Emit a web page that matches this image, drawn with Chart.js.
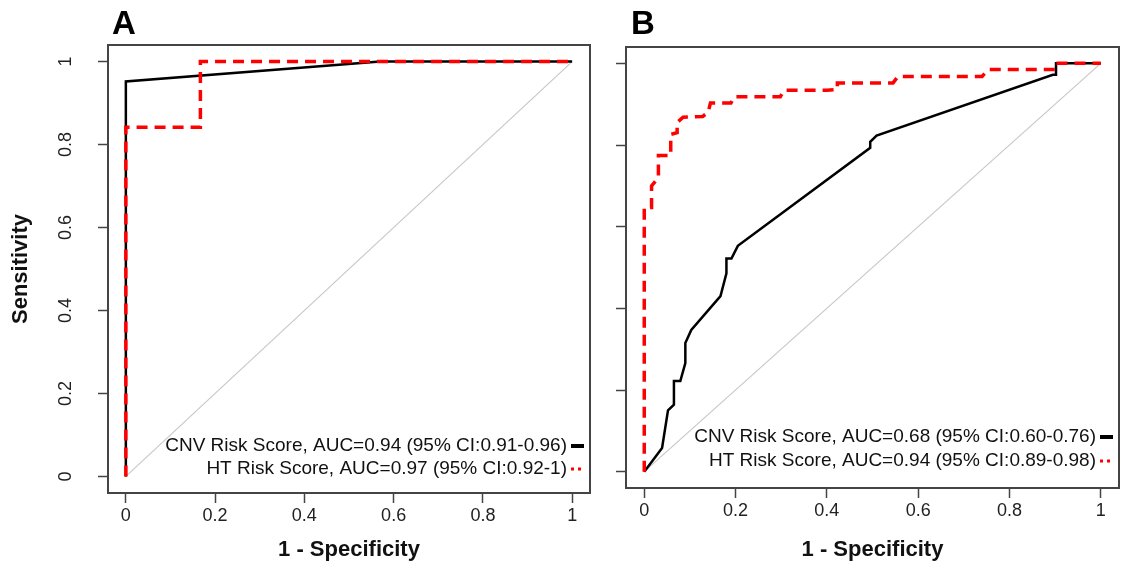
<!DOCTYPE html>
<html>
<head>
<meta charset="utf-8">
<script src="https://cdn.jsdelivr.net/npm/chart.js@4.4.1/dist/chart.umd.min.js"></script>
<style>
  html, body { margin: 0; padding: 0; background: #fff; }
  #wrap { position: relative; width: 1122px; height: 565px; }
  #wrap canvas { position: absolute; top: 0; }
  #rocA { left: 0; }
  #rocB { left: 600px; }
</style>
</head>
<body>
<div id="wrap">
  <canvas id="rocA" width="600" height="565"></canvas>
  <canvas id="rocB" width="522" height="565"></canvas>
</div>
<script>
// shared axis ticks and the chance diagonal
const tickValues = [0, 0.2, 0.4, 0.6, 0.8, 1];
const chanceLine = [0, 1];

// Panel A curves (1 - specificity, sensitivity)
const aCnvFpr = [0, 0, 0.57, 1];
const aCnvTpr = [0, 0.952, 1, 1];
const aHtFpr = [0, 0, 0.167, 0.167, 1];
const aHtTpr = [0, 0.842, 0.842, 1, 1];
const aLegend = ['CNV Risk Score, AUC=0.94 (95% CI:0.91-0.96)', 'HT Risk Score, AUC=0.97 (95% CI:0.92-1)'];

// Panel B curves
const bCnvFpr = [0, 0.039, 0.052, 0.065, 0.065, 0.079, 0.09, 0.09, 0.103, 0.167, 0.18, 0.18, 0.191, 0.205, 0.495, 0.495, 0.509, 0.895, 0.902, 0.902, 1];
const bCnvTpr = [0, 0.058, 0.15, 0.164, 0.222, 0.222, 0.266, 0.315, 0.347, 0.43, 0.486, 0.522, 0.522, 0.553, 0.793, 0.808, 0.823, 0.972, 0.972, 1, 1];
const bHtFpr = [0, 0, 0.016, 0.016, 0.031, 0.031, 0.058, 0.058, 0.072, 0.072, 0.085, 0.128, 0.14, 0.145, 0.19, 0.197, 0.298, 0.306, 0.40, 0.423, 0.423, 0.545, 0.556, 0.74, 0.754, 0.90, 0.902, 1];
const bHtTpr = [0, 0.647, 0.647, 0.70, 0.72, 0.774, 0.774, 0.826, 0.83, 0.855, 0.868, 0.870, 0.88, 0.903, 0.903, 0.918, 0.918, 0.934, 0.934, 0.936, 0.952, 0.952, 0.968, 0.968, 0.985, 0.985, 1, 1];
const bLegend = ['CNV Risk Score, AUC=0.68 (95% CI:0.60-0.76)', 'HT Risk Score, AUC=0.94 (95% CI:0.89-0.98)'];

const FONT = "'Liberation Sans', Arial, sans-serif";
const CNV_COLOR = '#000000';
const HT_COLOR = '#ff0000';

function toPoints(xs, ys) {
    return xs.map((x, i) => ({ x: x, y: ys[i] }));
}

// frame, panel letter, rotated y labels and the bottom-right legend
const rocDecor = {
    id: 'rocDecor',
    afterDraw(chart, args, o) {
        const { ctx, chartArea: a } = chart;
        ctx.save();

        ctx.strokeStyle = '#444';
        ctx.lineWidth = 2;
        ctx.strokeRect(a.left, a.top, a.right - a.left, a.bottom - a.top);

        ctx.fillStyle = '#000';
        ctx.font = 'bold 33px ' + FONT;
        ctx.textAlign = 'left';
        ctx.textBaseline = 'alphabetic';
        ctx.fillText(o.letter, o.letterX, 34);

        if (o.yLabelX) {
            const yScale = chart.scales.y;
            ctx.font = '18px ' + FONT;
            ctx.fillStyle = '#222';
            ctx.textAlign = 'center';
            ctx.textBaseline = 'middle';
            tickValues.forEach(v => {
                ctx.save();
                ctx.translate(o.yLabelX, yScale.getPixelForValue(v));
                ctx.rotate(-Math.PI / 2);
                ctx.fillText(String(v), 0, 0);
                ctx.restore();
            });
        }

        // legend: text right-aligned, line sample to its right
        const ds = chart.data.datasets;
        ctx.font = '19px ' + FONT;
        ctx.textAlign = 'right';
        ctx.textBaseline = 'middle';
        o.legend.forEach((label, i) => {
            const y = o.legendY[i];
            const set = ds[i + 1];
            ctx.fillStyle = '#111';
            ctx.fillText(label, a.right - 23, y);
            ctx.beginPath();
            ctx.strokeStyle = set.borderColor;
            ctx.lineWidth = i === 0 ? 4 : 3;
            ctx.setLineDash(i === 0 ? [] : [3, 4]);
            ctx.moveTo(a.right - 19, y);
            ctx.lineTo(a.right - 6, y);
            ctx.stroke();
        });
        ctx.restore();
    }
};

function axisCommon() {
    return {
        type: 'linear',
        min: -0.04,
        max: 1.04,
        afterBuildTicks: s => { s.ticks = tickValues.map(v => ({ value: v })); },
        grid: { drawOnChartArea: false, drawTicks: true, tickLength: 10, tickWidth: 1.5, tickColor: '#444' },
        border: { display: false }
    };
}

function makeRoc(id, p) {
    const ctx = document.getElementById(id).getContext('2d');
    const xAxis = Object.assign(axisCommon(), {
        afterFit: s => { s.height = p.xAxisHeight; },
        ticks: {
            font: { family: FONT, size: 18 }, color: '#222', padding: 2,
            maxRotation: 0, autoSkip: false, callback: v => String(v)
        },
        title: {
            display: true, text: '1 - Specificity', color: '#111',
            font: { family: FONT, size: 22, weight: 'bold' }, padding: { top: 0, bottom: 2 }
        }
    });
    const yAxis = Object.assign(axisCommon(), {
        afterFit: s => { s.width = p.yAxisWidth; },
        ticks: { display: false },
        title: {
            display: p.showYTitle, text: 'Sensitivity', color: '#111',
            font: { family: FONT, size: 22, weight: 'bold' }, padding: { top: 8, bottom: 0 }
        }
    });

    return new Chart(ctx, {
        type: 'scatter',
        data: {
            datasets: [
                {
                    label: 'chance', data: toPoints(chanceLine, chanceLine), showLine: true,
                    borderColor: '#c8c8c8', borderWidth: 1.2, pointRadius: 0, order: 3
                },
                {
                    label: 'CNV', data: toPoints(p.cnvX, p.cnvY), showLine: true,
                    borderColor: CNV_COLOR, borderWidth: 2.5, pointRadius: 0, order: 2
                },
                {
                    label: 'HT', data: toPoints(p.htX, p.htY), showLine: true,
                    borderColor: HT_COLOR, borderWidth: 3.5, borderDash: [11, 7], pointRadius: 0, order: 1
                }
            ]
        },
        options: {
            responsive: false,
            animation: false,
            layout: { padding: { top: p.padTop, right: p.padRight, left: 0, bottom: 0 } },
            plugins: {
                legend: { display: false },
                tooltip: { enabled: false },
                rocDecor: {
                    letter: p.letter, letterX: p.letterX, yLabelX: p.yLabelX,
                    legend: p.legend, legendY: p.legendY
                }
            },
            scales: { x: xAxis, y: yAxis }
        },
        plugins: [rocDecor]
    });
}

makeRoc('rocA', {
    cnvX: aCnvFpr, cnvY: aCnvTpr, htX: aHtFpr, htY: aHtTpr, legend: aLegend,
    letter: 'A', letterX: 112, yLabelX: 66, showYTitle: true,
    yAxisWidth: 108, xAxisHeight: 72, padTop: 45, padRight: 10,
    legendY: [446, 469]
});

makeRoc('rocB', {
    cnvX: bCnvFpr, cnvY: bCnvTpr, htX: bHtFpr, htY: bHtTpr, legend: bLegend,
    letter: 'B', letterX: 31, yLabelX: 0, showYTitle: false,
    yAxisWidth: 26, xAxisHeight: 77, padTop: 47, padRight: 3,
    legendY: [437, 461]
});
</script>
</body>
</html>
